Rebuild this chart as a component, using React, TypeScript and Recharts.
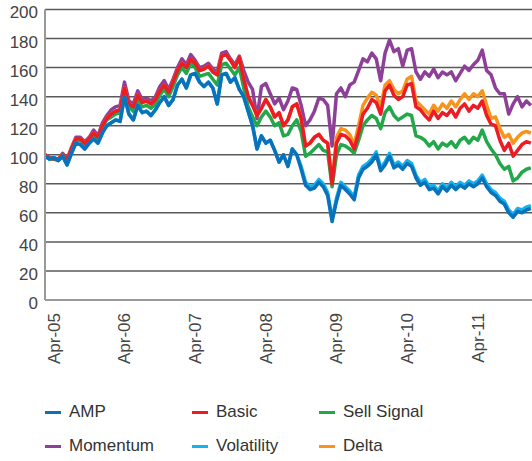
import { LineChart, Line, XAxis, YAxis, CartesianGrid } from 'recharts';

// one sample every 0.75 month, starting 1.5 months before Apr-05
const START = -1.5;
const STEP = 0.75;

const tickMonths = [0, 12, 24, 36, 48, 60, 72];
const tickLabels = ['Apr-05', 'Apr-06', 'Apr-07', 'Apr-08', 'Apr-09', 'Apr-10', 'Apr-11'];
const yTicks = [0, 20, 40, 60, 80, 100, 120, 140, 160, 180, 200];

const amp = [
  99, 97, 98, 96, 99, 93, 101, 108, 107, 104,
  108, 111, 108, 115, 120, 122, 124, 123, 140, 128,
  124, 134, 129, 130, 127, 131, 136, 140, 134, 138,
  148, 152, 146, 155, 156, 150, 147, 150, 146, 135,
  155, 156, 150, 153, 145, 140, 130, 120, 104, 113,
  108, 110, 103, 95, 100, 92, 104, 100, 90, 79,
  76, 77, 81, 78, 72, 54, 68, 79, 76, 73,
  69, 84, 90, 92, 95, 100, 89, 93, 99, 91,
  93, 90, 94, 92, 84, 79, 81, 76, 77, 73,
  78, 75, 79, 76, 79, 77, 80, 78, 80, 84,
  78, 74, 72, 68, 66, 60, 57, 61, 60, 62, 63,
];

const volatility = [
  99, 97, 98, 96, 99, 93, 101, 108, 107, 104,
  108, 111, 108, 115, 120, 122, 124, 123, 140, 128,
  124, 134, 129, 130, 127, 131, 136, 140, 134, 138,
  148, 152, 146, 155, 156, 150, 147, 150, 146, 135,
  155, 156, 150, 153, 145, 140, 130, 120, 104, 113,
  108, 110, 103, 95, 100, 92, 104, 100, 92, 81,
  78, 79, 83, 80, 74, 56, 70, 81, 78, 75,
  71, 86, 92, 94, 97, 102, 91, 95, 101, 93,
  95, 92, 96, 94, 86, 81, 83, 78, 79, 75,
  80, 77, 81, 78, 81, 79, 82, 80, 82, 86,
  80, 76, 74, 70, 68, 62, 59, 63, 62, 64, 65,
];

const basic = [
  100, 98, 97, 97, 100, 96, 104, 111, 111, 108,
  111, 115, 112, 120, 125, 128, 130, 131, 146, 135,
  133, 141, 136, 137, 135, 138, 144, 148, 143, 150,
  158, 163, 160, 166, 163, 158, 159, 161, 157, 155,
  168, 169, 165, 160, 167, 152, 140, 134, 127, 132,
  138, 133, 126, 129, 120, 124, 133, 135, 125, 106,
  108, 112, 114, 110, 108, 80, 108, 114, 113, 110,
  104, 115, 128, 132, 138, 136, 128, 144, 148, 141,
  138, 140, 148, 149, 133, 131, 127, 124, 130, 125,
  129, 127, 131, 126, 132, 135, 130, 134, 132, 137,
  127, 121, 120, 110, 103, 108, 99, 103, 107, 109, 108,
];

const delta = [
  100, 98, 97, 97, 100, 96, 104, 111, 111, 108,
  111, 115, 112, 120, 125, 128, 130, 131, 146, 135,
  133, 141, 136, 137, 135, 138, 144, 148, 143, 150,
  158, 163, 160, 166, 163, 158, 159, 161, 157, 155,
  168, 169, 165, 160, 167, 152, 140, 134, 127, 132,
  138, 133, 126, 129, 120, 124, 133, 135, 125, 106,
  108, 112, 114, 110, 108, 80, 112, 118, 117, 114,
  107, 120, 134, 139, 143, 141, 133, 148, 151, 145,
  142, 144, 152, 154, 137, 134, 131, 128, 134, 130,
  135, 132, 137, 133, 138, 142, 138, 142, 140, 144,
  134, 125, 126, 118, 112, 114, 108, 112, 115, 116, 115,
];

const sellSignal = [
  99, 97, 97, 96, 99, 95, 103, 110, 110, 107,
  110, 114, 111, 119, 124, 126, 128, 129, 143, 133,
  130, 138, 133, 134, 132, 135, 141, 145, 140, 147,
  155, 160, 156, 163, 160, 154, 155, 156, 152, 148,
  162, 163, 159, 155, 160, 146, 133, 126, 120, 126,
  130, 126, 120, 122, 113, 114, 120, 124, 116, 99,
  101, 104, 107, 103, 102, 78, 100, 107, 106, 104,
  101, 110, 120, 124, 127, 125, 118, 129, 133, 127,
  124, 126, 128, 127, 113, 112, 110, 106, 109, 104,
  108, 106, 109, 105, 110, 112, 108, 112, 110, 117,
  109, 104, 100, 94, 90, 92, 82, 84, 88, 90, 91,
];

const momentum = [
  100, 98, 98, 97, 101, 97, 105, 112, 112, 109,
  112, 117, 113, 122, 127, 131, 133, 134, 150, 137,
  135, 144, 138, 139, 137, 140, 147, 151, 145, 152,
  160, 166, 162, 169, 165, 160, 161, 163, 159, 157,
  170, 171, 166, 162, 168, 158, 150, 145, 125, 147,
  149, 142, 135, 139, 131, 137, 146, 145, 134, 120,
  124, 130, 139, 138, 134, 106, 142, 146, 140, 148,
  150, 158, 166, 164, 170, 166, 151, 170, 179, 171,
  173, 161, 172, 173, 157, 152, 157, 154, 159, 153,
  157, 155, 157, 151, 156, 161, 158, 162, 165, 172,
  158, 155, 146, 142, 142, 128, 135, 140, 133, 137, 134,
];

const series = [
  { key: 'momentum', name: 'Momentum', color: '#8e3f98', values: momentum },
  { key: 'delta', name: 'Delta', color: '#f7941d', values: delta },
  { key: 'sellSignal', name: 'Sell Signal', color: '#22a84a', values: sellSignal },
  { key: 'basic', name: 'Basic', color: '#ed1c24', values: basic },
  { key: 'volatility', name: 'Volatility', color: '#12b4ee', values: volatility },
  { key: 'amp', name: 'AMP', color: '#0a72ba', values: amp },
];

const data = amp.map((_, i) => {
  const row: Record<string, number> = { t: START + i * STEP };
  series.forEach((s) => {
    row[s.key] = s.values[i];
  });
  return row;
});

// legend order as in the original, 3 per row
const legendItems = [
  { name: 'AMP', color: '#0a72ba' },
  { name: 'Basic', color: '#ed1c24' },
  { name: 'Sell Signal', color: '#22a84a' },
  { name: 'Momentum', color: '#8e3f98' },
  { name: 'Volatility', color: '#12b4ee' },
  { name: 'Delta', color: '#f7941d' },
];
const legendCols = [45, 192, 319];
const legendRows = [412, 446];

const FONT = '"Liberation Sans", Arial, sans-serif';

const XTick = ({ x, payload }: any) => {
  const idx = tickMonths.indexOf(payload.value);
  return (
    <text
      transform={`translate(${x},313) rotate(-90)`}
      textAnchor="end"
      dy="0.35em"
      fontSize={17}
      fill="#444"
      fontFamily={FONT}
    >
      {tickLabels[idx]}
    </text>
  );
};

const YTick = ({ y, payload }: any) => (
  <text x={38} y={y + 3} textAnchor="end" dy="0.35em" fontSize={17} fill="#444" fontFamily={FONT}>
    {payload.value}
  </text>
);

export default function App() {
  return (
    <div style={{ position: 'relative', width: 532, height: 461, background: '#fff', fontFamily: FONT }}>
      <style>{'body{margin:0}'}</style>
      <LineChart width={532} height={400} data={data} margin={{ top: 9.5, right: 0, left: 0, bottom: 0 }}>
        <CartesianGrid vertical={false} stroke="#5a5a5a" strokeWidth={1.5} />
        <XAxis
          dataKey="t"
          type="number"
          domain={[-1.5, 81.2]}
          ticks={tickMonths}
          tick={<XTick />}
          tickLine={false}
          axisLine={{ stroke: '#999', strokeWidth: 2 }}
          height={100}
          allowDataOverflow
          interval={0}
        />
        <YAxis
          domain={[0, 200]}
          ticks={yTicks}
          tick={<YTick />}
          tickLine={false}
          axisLine={{ stroke: '#999', strokeWidth: 2 }}
          width={45}
          interval={0}
        />
        {series.map((s) => (
          <Line
            key={s.key}
            dataKey={s.key}
            name={s.name}
            stroke={s.color}
            strokeWidth={3.5}
            dot={false}
            activeDot={false}
            isAnimationActive={false}
            strokeLinejoin="round"
          />
        ))}
      </LineChart>
      {legendItems.map((item, i) => (
        <div
          key={item.name}
          style={{
            position: 'absolute',
            left: legendCols[i % 3],
            top: legendRows[Math.floor(i / 3)] - 11,
            height: 22,
            display: 'flex',
            alignItems: 'center',
            fontSize: 17,
            color: '#333',
            whiteSpace: 'nowrap',
          }}
        >
          <span style={{ display: 'inline-block', width: 16, height: 3, background: item.color, marginRight: 8 }} />
          {item.name}
        </div>
      ))}
    </div>
  );
}
